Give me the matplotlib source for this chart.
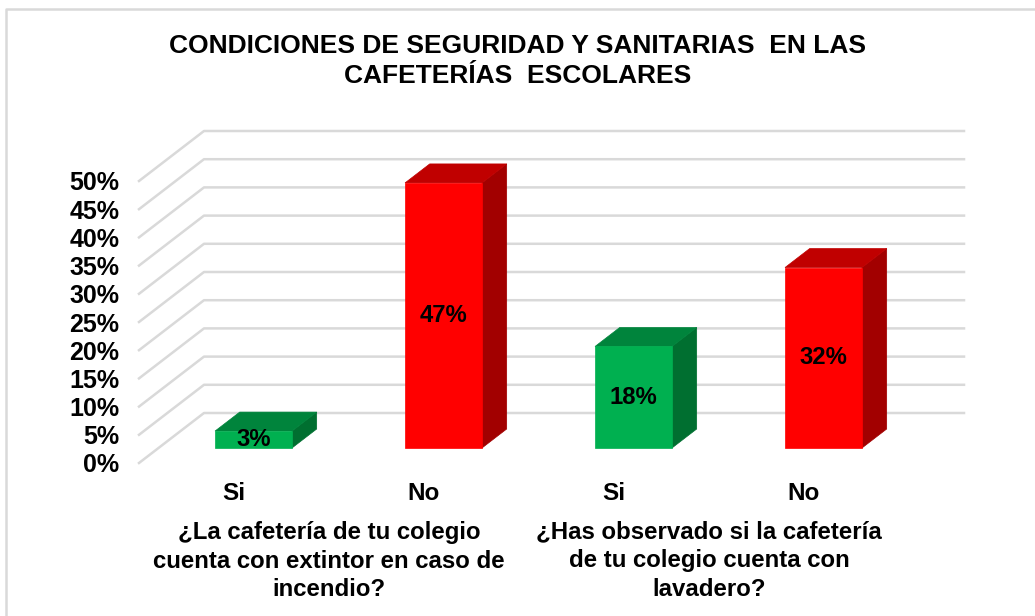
import matplotlib
matplotlib.use('Agg')
import matplotlib.pyplot as plt
from matplotlib.patches import Polygon
from matplotlib.lines import Line2D
import matplotlib.transforms as mtransforms

plt.rcParams['font.family'] = ['Liberation Sans', 'DejaVu Sans']
plt.rcParams['font.weight'] = 'bold'

# data
categories = ['Si', 'No', 'Si', 'No']
values = [3, 47, 18, 32]
value_labels = ['3%', '47%', '18%', '32%']
questions = ['¿La cafetería de tu colegio\ncuenta con extintor en caso de\nincendio?',
             '¿Has observado si la cafetería\nde tu colegio cuenta con\nlavadero?']
question_pos = [0.5, 2.5]
yticks = list(range(0, 51, 5))
title = 'CONDICIONES DE SEGURIDAD Y SANITARIAS  EN LAS\nCAFETERÍAS  ESCOLARES'

# look of the fake 3d columns
face_colors = {'Si': ('#00b050', '#00843c', '#006f30'),
               'No': ('#ff0000', '#c00000', '#a20000')}
grid_color = '#d9d9d9'
DEPTH_X = 65 / 190.0      # wall depth in x data units
DEPTH_Y = 50 / (282 / 50.0)  # wall depth in y data units
Z0, Z1 = 0.30, 0.68       # column position inside the depth
BAR_W = 0.405

W, H = 1035, 616
fig = plt.figure(figsize=(W / 100, H / 100), dpi=100)
ax = fig.add_axes([139 / W, 1 - 463 / H, 760 / W, 282 / H])
ax.set_xlim(-0.5, 3.5)
ax.set_ylim(0, 50)
for s in ax.spines.values():
    s.set_visible(False)


def proj(x, y, z):
    return (x + z * DEPTH_X, y + z * DEPTH_Y)


# side wall + back wall gridlines
for v in yticks:
    pts = [proj(-0.5, v, 0), proj(-0.5, v, 1), proj(3.5, v, 1)]
    ax.add_line(Line2D([p[0] for p in pts], [p[1] for p in pts],
                       color=grid_color, lw=1.8, clip_on=False, zorder=1))

# columns
for i, (cat, v, lab) in enumerate(zip(categories, values, value_labels)):
    front_c, top_c, side_c = face_colors[cat]
    x0, x1 = i - BAR_W / 2, i + BAR_W / 2
    front = [proj(x0, 0, Z0), proj(x1, 0, Z0), proj(x1, v, Z0), proj(x0, v, Z0)]
    top = [proj(x0, v, Z0), proj(x1, v, Z0), proj(x1, v, Z1), proj(x0, v, Z1)]
    side = [proj(x1, 0, Z0), proj(x1, 0, Z1), proj(x1, v, Z1), proj(x1, v, Z0)]
    for poly, c in [(side, side_c), (top, top_c), (front, front_c)]:
        ax.add_patch(Polygon(poly, closed=True, facecolor=c, edgecolor=c,
                             lw=0.5, clip_on=False, zorder=2))
    cx, cy = proj(i, v / 2, Z0)
    ax.text(cx, cy, lab, ha='center', va='center', fontsize=17.2,
            fontweight='bold', color='black', zorder=3, clip_on=False)

ax.set_yticks(yticks)
ax.set_yticklabels([f'{v}%' for v in yticks], fontsize=18, fontweight='bold')
ax.set_xticks(range(len(categories)))
ax.set_xticklabels(categories, fontsize=17.5, fontweight='bold')
ax.tick_params(axis='both', length=0)
ax.tick_params(axis='y', pad=14)
ax.tick_params(axis='x', pad=14)

trans = mtransforms.blended_transform_factory(ax.transData, fig.transFigure)
for xq, q in zip(question_pos, questions):
    ax.text(xq, 1 - 561 / H, q, transform=trans, ha='center', va='center',
            fontsize=17.3, fontweight='bold', linespacing=1.33)

fig.text(0.5, 1 - 61 / H, title, ha='center', va='center', fontsize=19,
         fontweight='bold', linespacing=1.33)

# chart area border (left and top)
fig.add_artist(Line2D([6 / W, 6 / W, 1.0], [0, 1 - 9 / H, 1 - 9 / H],
                      transform=fig.transFigure, color=grid_color, lw=1.8))

fig.savefig('out.png', dpi=100)
